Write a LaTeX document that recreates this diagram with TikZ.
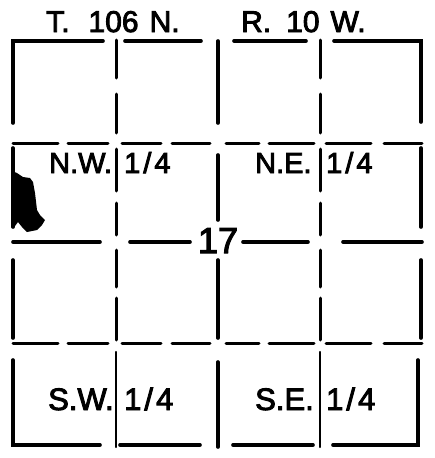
\documentclass[tikz,border=0pt]{standalone}
\usepackage{fontspec}
\setmainfont{Liberation Sans}[BoldFont={Liberation Sans},BoldFeatures={FakeBold=3}]
\begin{document}
\begin{tikzpicture}[x=1pt,y=-1pt,
  outer/.style={line width=3.6pt,line cap=round,line join=miter},
  inner/.style={line width=3pt,line cap=round},
  thin/.style={line width=2.4pt,line cap=round},
  lblt/.style={anchor=base west,inner sep=0pt,font=\fontsize{30}{30}\selectfont\bfseries},
  lbl/.style={anchor=base west,inner sep=0pt,font=\fontsize{29}{29}\selectfont\bfseries},
  lblb/.style={anchor=base west,inner sep=0pt,font=\fontsize{31}{31}\selectfont\bfseries}]
\useasboundingbox (0,0) rectangle (434,458);
% outer frame
\draw[outer] (13,123) -- (13,41) -- (103,41);
\draw[outer] (125,41) -- (201,41);
\draw[outer] (234,41) -- (306,41);
\draw[outer] (334,41) -- (421,41) -- (421,122);
\draw[outer] (13,360) -- (13,445) -- (100,445);
\draw[outer] (120,445) -- (200,445);
\draw[outer] (233,445) -- (313,445);
\draw[outer] (333,445) -- (418,445) -- (418,360);
\draw[outer] (13,148) -- (13,227);
\draw[outer] (13,260) -- (13,338);
\draw[outer] (421,148) -- (421,227);
\draw[outer] (421,260) -- (421,338);
% middle vertical
\draw[outer] (218,41) -- (218,123);
\draw[outer] (218,155) -- (218,220);
\draw[outer] (218,260) -- (218,338);
\draw[outer] (218,362) -- (218,447);
% quarter-quarter verticals
\foreach \x in {116,320}{
  \draw[inner] (\x,40) -- (\x,78);
  \draw[inner] (\x,94) -- (\x,133);
  \draw[inner] (\x,149) -- (\x,191);
  \draw[inner] (\x,203) -- (\x,235);
  \draw[inner] (\x,250) -- (\x,287);
  \draw[inner] (\x,298) -- (\x,340);
  \draw[thin] (\x,352) -- (\x,447);
}
% horizontal dashed lines
\foreach \y in {143,343}{
  \foreach \a/\b in {13/58,68/108,122/161,172/210,226/259,269/314,326/371,384/422}{
    \draw[inner] (\a,\y) -- (\b,\y);
  }
}
% middle horizontal
\draw[outer] (13,242) -- (100,242);
\draw[outer] (130,242) -- (190,242);
\draw[outer] (243,242) -- (308,242);
\draw[outer] (343,242) -- (422,242);
% blob
\fill (12,171) -- (17,173) -- (23,177) -- (30,178) -- (33,182) -- (35,193) -- (37,210) -- (40,215) -- (45,220) -- (42,225) -- (37,230) -- (27,232) -- (22,227) -- (18,222) -- (15,226) -- (12,226) -- cycle;
% texts
\node[lblt] (tn) at (46,32) {T.\hspace{19pt}106\hspace{11pt}N.};
\node[lblt] (rw) at (241,32) {R.\hspace{15pt}10\hspace{11pt}W.};
\node[lbl] (nw) at (49,173) {N.W.};
\node[lbl] (nwq) at (124,173) {1\hspace{3pt}/\hspace{3pt}4};
\node[lbl] (ne) at (255,173) {N.E.};
\node[lbl] (neq) at (326,173) {1\hspace{3pt}/\hspace{3pt}4};
\node[lblb] (sw) at (48,410) {S.W.};
\node[lblb] (swq) at (124,410) {1\hspace{3pt}/\hspace{3pt}4};
\node[lblb] (se) at (255,410) {S.E.};
\node[lblb] (seq) at (326,410) {1\hspace{3pt}/\hspace{3pt}4};
\node[anchor=base,inner sep=0pt,font=\fontsize{36}{36}\selectfont\bfseries] (sec) at (218,253) {17};
\end{tikzpicture}
\end{document}
